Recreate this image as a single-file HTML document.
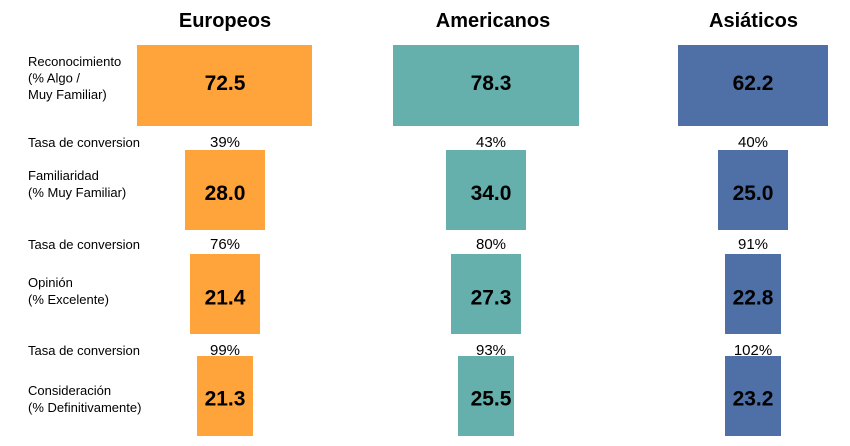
<!DOCTYPE html>
<html><head><meta charset="utf-8">
<style>
html,body{margin:0;padding:0;background:#fff;}
svg{display:block;}
text{font-family:"Liberation Sans",sans-serif;fill:#000;}
.t{font-size:20px;font-weight:bold;text-anchor:middle;}
.l{font-size:13px;}
.p{font-size:15px;text-anchor:middle;}
.v{font-size:21px;font-weight:bold;text-anchor:middle;}
</style></head><body>
<svg width="850" height="446" viewBox="0 0 850 446" xmlns="http://www.w3.org/2000/svg">
<rect width="850" height="446" fill="#fff"/>
<!-- titles -->
<text class="t" x="225" y="27">Europeos</text>
<text class="t" x="493" y="27">Americanos</text>
<text class="t" x="753.5" y="27">Asiáticos</text>

<!-- left labels -->
<text class="l" x="28" y="66">Reconocimiento</text>
<text class="l" x="28" y="82.5">(% Algo /</text>
<text class="l" x="28" y="99">Muy Familiar)</text>
<text class="l" x="28" y="147">Tasa de conversion</text>
<text class="l" x="28" y="180">Familiaridad</text>
<text class="l" x="28" y="197">(% Muy Familiar)</text>
<text class="l" x="28" y="249">Tasa de conversion</text>
<text class="l" x="28" y="287">Opinión</text>
<text class="l" x="28" y="304">(% Excelente)</text>
<text class="l" x="28" y="355">Tasa de conversion</text>
<text class="l" x="28" y="395">Consideración</text>
<text class="l" x="28" y="412">(% Definitivamente)</text>

<!-- Europeos -->
<rect x="137" y="45" width="175" height="81" fill="#FFA33B"/>
<rect x="185" y="150" width="80" height="80" fill="#FFA33B"/>
<rect x="190" y="254" width="70" height="80" fill="#FFA33B"/>
<rect x="197" y="356" width="56" height="80" fill="#FFA33B"/>
<text class="v" x="225" y="90">72.5</text>
<text class="v" x="225" y="200">28.0</text>
<text class="v" x="225" y="304.5">21.4</text>
<text class="v" x="225" y="405.5">21.3</text>
<text class="p" x="225" y="147">39%</text>
<text class="p" x="225" y="249">76%</text>
<text class="p" x="225" y="355">99%</text>

<!-- Americanos -->
<rect x="393" y="45" width="186" height="81" fill="#65B0AC"/>
<rect x="446" y="150" width="80" height="80" fill="#65B0AC"/>
<rect x="451" y="254" width="70" height="80" fill="#65B0AC"/>
<rect x="458" y="356" width="56" height="80" fill="#65B0AC"/>
<text class="v" x="491" y="90">78.3</text>
<text class="v" x="491" y="200">34.0</text>
<text class="v" x="491" y="304.5">27.3</text>
<text class="v" x="491" y="405.5">25.5</text>
<text class="p" x="491" y="147">43%</text>
<text class="p" x="491" y="249">80%</text>
<text class="p" x="491" y="355">93%</text>

<!-- Asiáticos -->
<rect x="678" y="45" width="150" height="81" fill="#4E70A6"/>
<rect x="718" y="150" width="70" height="80" fill="#4E70A6"/>
<rect x="725" y="254" width="56" height="80" fill="#4E70A6"/>
<rect x="725" y="356" width="56" height="80" fill="#4E70A6"/>
<text class="v" x="753" y="90">62.2</text>
<text class="v" x="753" y="200">25.0</text>
<text class="v" x="753" y="304.5">22.8</text>
<text class="v" x="753" y="405.5">23.2</text>
<text class="p" x="753" y="147">40%</text>
<text class="p" x="753" y="249">91%</text>
<text class="p" x="753" y="355">102%</text>
</svg>
</body></html>
